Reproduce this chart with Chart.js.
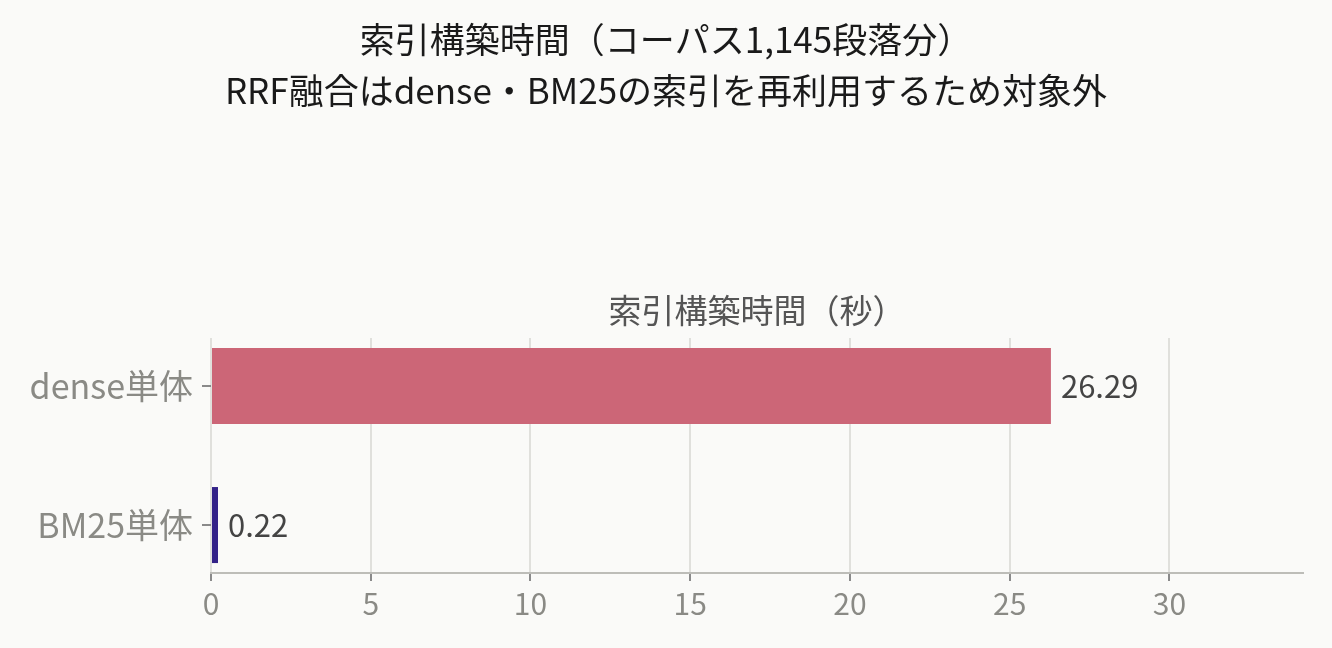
<!DOCTYPE html>
<html lang="ja">
<head>
<meta charset="utf-8">
<title>索引構築時間</title>
<script src="https://cdn.jsdelivr.net/npm/chart.js@4/dist/chart.umd.min.js"></script>
<style>
  html, body { margin: 0; padding: 0; background: #fafaf8; }
  #wrap { width: 1332px; height: 648px; }
</style>
</head>
<body>
<div id="wrap"><canvas id="buildChart" width="1332" height="648"></canvas></div>
<script>
// Chart data
const categories = ["dense単体", "BM25単体"];
const buildSeconds = [26.29, 0.22];
const barColors = ["#CC6677", "#332288"];
const xTickStep = 5;
const xMax = 34.18;
const titleLines = [
  "索引構築時間（コーパス1,145段落分）",
  "RRF融合はdense・BM25の索引を再利用するため対象外",
];
const axisTitle = "索引構築時間（秒）";

const FONT = '"Noto Sans CJK JP", "Noto Sans", sans-serif';

// Value labels at the end of each bar
const valueLabels = {
  id: "valueLabels",
  afterDatasetsDraw(chart) {
    const ctx = chart.ctx;
    const meta = chart.getDatasetMeta(0);
    ctx.save();
    ctx.font = "31px " + FONT;
    ctx.fillStyle = "#444444";
    ctx.textBaseline = "middle";
    ctx.textAlign = "left";
    meta.data.forEach((bar, i) => {
      ctx.fillText(buildSeconds[i].toFixed(2), bar.x + 10, bar.y);
    });
    ctx.restore();
  },
};

const ctx = document.getElementById("buildChart").getContext("2d");
new Chart(ctx, {
  type: "bar",
  data: {
    datasets: [
      {
        data: buildSeconds.map((v, i) => ({ x: v, y: i })),
        backgroundColor: barColors,
        categoryPercentage: 1,
        barPercentage: 0.547,
      },
    ],
  },
  options: {
    indexAxis: "y",
    responsive: false,
    animation: false,
    devicePixelRatio: 1,
    layout: { padding: { left: 29, right: 29, top: 0, bottom: 0 } },
    plugins: {
      legend: { display: false },
      tooltip: { enabled: false },
      title: {
        display: true,
        text: titleLines,
        color: "#1a1a1a",
        font: { family: FONT, size: 35, weight: "normal", lineHeight: 1.46 },
        padding: { top: 14, bottom: 174.3 },
      },
    },
    scales: {
      x: {
        type: "linear",
        position: "bottom",
        min: 0,
        max: xMax,
        ticks: {
          stepSize: xTickStep,
          includeBounds: false,
          color: "#8a8a85",
          font: { family: FONT, size: 30 },
          padding: 5,
        },
        grid: {
          color: "#e0e0dc",
          lineWidth: 2,
          tickColor: "#8a8a8a",
          tickLength: 8,
        },
        border: { color: "#bdbdb8", width: 2 },
        afterFit: (s) => { s.height = 75; },
      },
      x2: {
        type: "linear",
        position: "top",
        grid: { display: false, drawTicks: false },
        border: { display: false },
        ticks: { display: false },
        title: {
          display: true,
          text: axisTitle,
          color: "#555555",
          font: { family: FONT, size: 33 },
          padding: { top: 0, bottom: 8 },
        },
      },
      y: {
        type: "linear",
        reverse: true,
        offset: false,
        min: -0.345,
        max: 1.345,
        ticks: {
          stepSize: 1,
          includeBounds: false,
          callback: (v) => categories[v] ?? "",
          color: "#8a8a85",
          font: { family: FONT, size: 34 },
          padding: 9,
        },
        grid: {
          offset: false,
          drawOnChartArea: false,
          lineWidth: 2,
          tickLength: 9,
          tickColor: "#8a8a8a",
        },
        border: { display: false },
        afterFit: (s) => { s.width = 182; },
      },
    },
  },
  plugins: [valueLabels],
});
</script>
</body>
</html>
